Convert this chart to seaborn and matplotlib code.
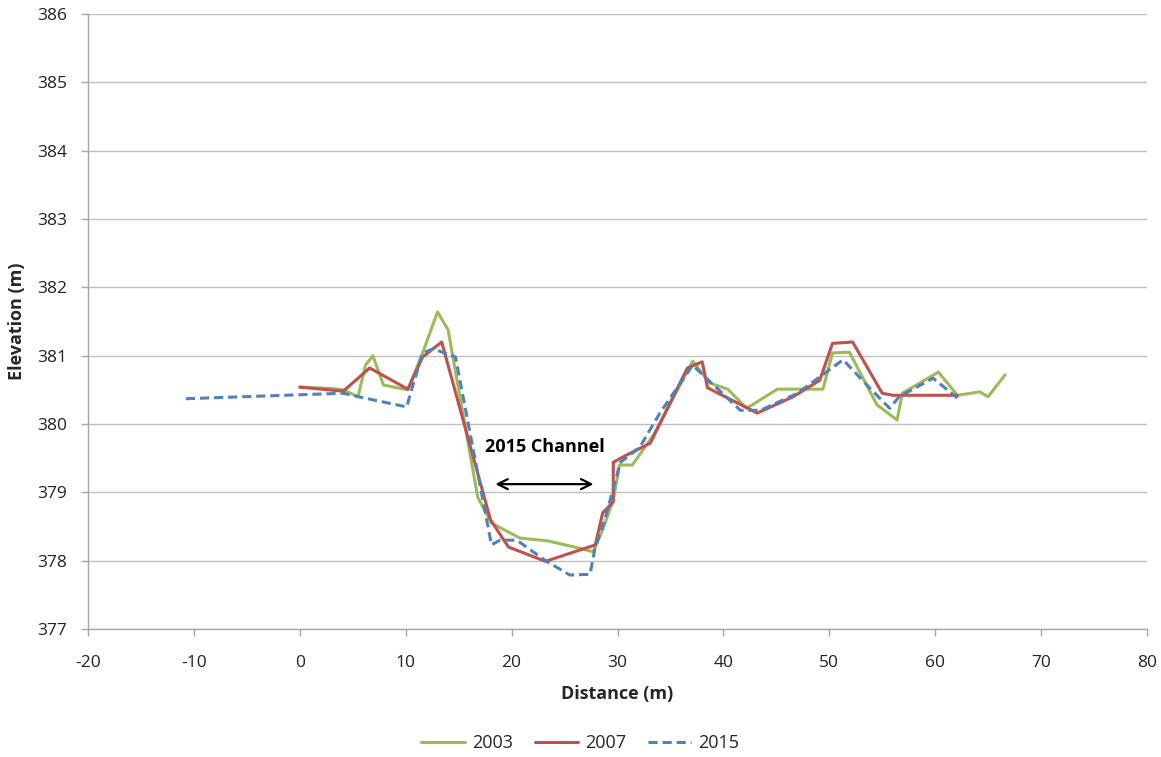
import matplotlib
matplotlib.use("Agg")
import matplotlib.pyplot as plt
import seaborn as sns
import pandas as pd

# --- data ---
x2003 = [0.0, 3.0, 4.1, 5.5, 6.2, 6.9, 7.9, 10.2, 11.6, 13.0, 14.0, 16.8, 18.1, 20.8, 23.4, 26.2, 27.7,
         28.6, 29.6, 30.2, 31.4, 33.4, 37.1, 38.7, 40.4, 42.2, 45.1, 47.2, 49.4, 50.3, 51.9, 54.5, 56.4,
         56.9, 60.3, 62.1, 64.2, 65.0, 66.6]
y2003 = [380.54, 380.52, 380.50, 380.40, 380.86, 381.00, 380.57, 380.50, 381.04, 381.64, 381.38, 378.93,
         378.55, 378.33, 378.29, 378.19, 378.13, 378.45, 378.89, 379.40, 379.40, 379.84, 380.92, 380.60,
         380.51, 380.23, 380.51, 380.51, 380.51, 381.04, 381.05, 380.28, 380.06, 380.45, 380.76, 380.42,
         380.47, 380.40, 380.72]

x2007 = [0.0, 4.1, 6.6, 10.2, 11.6, 13.4, 18.0, 19.7, 23.2, 27.9, 28.6, 29.6, 29.6, 30.9, 33.1, 36.6,
         38.0, 38.5, 43.2, 46.6, 49.1, 50.3, 52.2, 55.0, 56.0, 62.1]
y2007 = [380.54, 380.48, 380.82, 380.51, 380.98, 381.20, 378.60, 378.20, 377.99, 378.23, 378.70, 378.86,
         379.44, 379.55, 379.72, 380.82, 380.91, 380.53, 380.16, 380.40, 380.64, 381.18, 381.20, 380.45,
         380.42, 380.42]

x2015 = [-10.75, 4.1, 5.5, 10.1, 10.4, 11.6, 12.6, 14.7, 18.1, 18.9, 20.5, 23.2, 25.5, 27.4, 27.9, 28.8,
         30.0, 30.2, 32.1, 34.0, 37.1, 41.6, 43.5, 47.0, 49.1, 51.3, 53.8, 55.7, 56.6, 59.8, 62.1]
y2015 = [380.37, 380.45, 380.40, 380.25, 380.42, 381.04, 381.10, 380.98, 378.23, 378.30, 378.30, 378.00,
         377.79, 377.80, 378.20, 378.60, 379.28, 379.43, 379.66, 380.16, 380.86, 380.20, 380.20, 380.45,
         380.69, 380.94, 380.53, 380.23, 380.40, 380.67, 380.38]

series = ["2003", "2007", "2015"]
x_ticks = [-20, -10, 0, 10, 20, 30, 40, 50, 60, 70, 80]
y_ticks = [377, 378, 379, 380, 381, 382, 383, 384, 385, 386]
channel_start, channel_end, channel_y = 18.2, 28.0, 379.12
channel_label = "2015 Channel"

frames = []
for name, xs, ys in zip(series, [x2003, x2007, x2015], [y2003, y2007, y2015]):
    frames.append(pd.DataFrame({"Distance": xs, "Elevation": ys, "Year": name, "order": range(len(xs))}))
df = pd.concat(frames, ignore_index=True)

sns.set_theme(style="white")
plt.rcParams["font.family"] = ["Open Sans", "DejaVu Sans"]

fig = plt.figure(figsize=(11.61, 7.57), dpi=100)
ax = fig.add_axes([88 / 1161, 1 - 629 / 757, (1147 - 88) / 1161, (629 - 14) / 757])

palette = {"2003": "#9BBB59", "2007": "#C0504D", "2015": "#4F81BD"}
dashes = {"2003": "", "2007": "", "2015": (3, 1.6)}
sns.lineplot(data=df, x="Distance", y="Elevation", hue="Year", style="Year", palette=palette,
             dashes=dashes, sort=False, estimator=None, units="Year", linewidth=2.2, ax=ax, legend=True)

ax.set_xlim(-20, 80)
ax.set_ylim(377, 386)
ax.set_xticks(x_ticks)
ax.set_yticks(y_ticks)
ax.set_xticklabels([str(t) for t in x_ticks], fontsize=12.5, color="#222222")
ax.set_yticklabels([str(t) for t in y_ticks], fontsize=12.5, color="#222222")
ax.yaxis.grid(True, color="#bfbfbf", linewidth=1)
ax.xaxis.grid(False)
for s in ["top", "right"]:
    ax.spines[s].set_visible(False)
for s in ["left", "bottom"]:
    ax.spines[s].set_color("#a6a6a6")
    ax.spines[s].set_linewidth(1)
ax.tick_params(axis="both", which="both", direction="out", length=5, width=1, color="#a6a6a6",
               bottom=True, left=True)
ax.tick_params(axis="x", pad=14)
ax.tick_params(axis="y", pad=10)
ax.set_xlabel("Distance (m)", fontsize=13, fontweight="bold", labelpad=10)
ax.set_ylabel("Elevation (m)", fontsize=13, fontweight="bold", labelpad=8)

ax.annotate("", xy=(channel_start, channel_y), xytext=(channel_end, channel_y),
            arrowprops=dict(arrowstyle="<->", color="black", lw=1.6, mutation_scale=18))
ax.text((channel_start + channel_end) / 2, channel_y + 0.54, channel_label, ha="center", va="center",
        fontsize=13, fontweight="bold", color="black")

handles, labels = ax.get_legend_handles_labels()
ax.get_legend().remove()
fig.legend(handles, labels, loc="center", bbox_to_anchor=(0.5, 1 - 743 / 757), ncol=3, frameon=False,
           fontsize=13, handlelength=2.4, columnspacing=1.2, handletextpad=0.4)

fig.savefig("out.png", dpi=100)
